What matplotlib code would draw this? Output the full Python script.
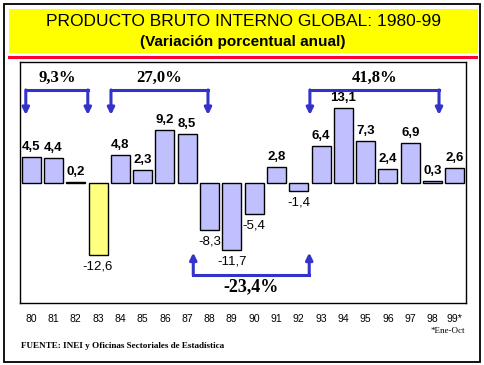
import matplotlib
matplotlib.use("Agg")
from matplotlib import pyplot as plt
from matplotlib.patches import Rectangle
from matplotlib.lines import Line2D

# datos
anios = ["80", "81", "82", "83", "84", "85", "86", "87", "88", "89",
         "90", "91", "92", "93", "94", "95", "96", "97", "98", "99*"]
variacion = [4.5, 4.4, 0.2, -12.6, 4.8, 2.3, 9.2, 8.5, -8.3, -11.7,
             -5.4, 2.8, -1.4, 6.4, 13.1, 7.3, 2.4, 6.9, 0.3, 2.6]
# periodos acumulados: (desde, hasta, texto)
periodos_arriba = [(-0.24, 2.54, "9,3%"), (3.58, 7.93, "27,0%"), (12.5, 18.29, "41,8%")]
periodo_abajo = (7.27, 12.47, "-23,4%")

W, H = 484, 365
fig = plt.figure(figsize=(W / 100, H / 100), dpi=100)

def fx(px):
    return px / W

def fy(py):
    return 1 - py / H

# marco exterior, recuadro amarillo y linea roja
fig.add_artist(Rectangle((fx(4), fy(362)), fx(476), 358 / H, transform=fig.transFigure,
                         fill=False, ec="black", lw=1.3))
fig.add_artist(Rectangle((fx(9), fy(53)), fx(469), 44 / H, transform=fig.transFigure,
                         fc="#FFFF00", ec="none"))
fig.add_artist(Line2D([fx(9), fx(476)], [fy(57), fy(57)], transform=fig.transFigure,
                      color="#FF0033", lw=2.2))

fig.text(fx(243), fy(22), "PRODUCTO BRUTO INTERNO GLOBAL: 1980-99", ha="center", va="center",
         fontsize=12.5, family="Liberation Sans")
fig.text(fx(243), fy(42), "(Variación porcentual anual)", ha="center", va="center",
         fontsize=11, fontweight="bold", family="Liberation Sans")

ax = fig.add_axes([fx(20), fy(303), 446 / W, 241 / H])
x = list(range(len(anios)))
colores = ["#FFFF80" if a == "83" else "#C0C0FF" for a in anios]
ax.bar(x, variacion, width=0.85, color=colores, edgecolor="black", linewidth=1)
ax.set_xlim(-0.5, 19.5)
ax.set_ylim(-21, 21.15)
ax.set_yticks([])
ax.set_xticks(x)
ax.set_xticklabels(anios, fontsize=7.5, family="Liberation Sans")
ax.tick_params(axis="x", length=0, pad=8)
for s in ax.spines.values():
    s.set_linewidth(1)

for xi, v in zip(x, variacion):
    txt = ("%.1f" % v).replace(".", ",")
    if v >= 0:
        ax.annotate(txt, (xi, v), xytext=(0, 3), textcoords="offset points", ha="center",
                    va="bottom", fontsize=9.5, fontweight="bold", family="Liberation Sans")
    else:
        ax.annotate(txt, (xi, v), xytext=(0, -4), textcoords="offset points", ha="center",
                    va="top", fontsize=9.5, family="Liberation Sans")

azul = "#3333CC"

def corchete(x0, x1, yh, ytip, texto, ytxt, size):
    ax.plot([x0, x1], [yh, yh], color=azul, lw=2.2, clip_on=False, solid_capstyle="projecting")
    for xx in (x0, x1):
        ax.annotate("", xy=(xx, ytip), xytext=(xx, yh),
                    arrowprops=dict(arrowstyle="-|>", lw=2.2, color=azul, mutation_scale=10,
                                    shrinkA=0, shrinkB=0))
    ax.text((x0 + x1) / 2, ytxt, texto, ha="center", va="center", fontsize=size,
            fontweight="bold", family="Liberation Serif")

for x0, x1, t in periodos_arriba:
    corchete(x0, x1, 16.26, 11.9, t, 18.4, 12)
corchete(periodo_abajo[0], periodo_abajo[1], -16.1, -12.2, periodo_abajo[2], -18.2, 13)

fig.text(fx(448), fy(331), "*Ene-Oct", ha="center", va="center", fontsize=6.5,
         family="Liberation Serif")
fig.text(fx(21), fy(346), "FUENTE: INEI y Oficinas Sectoriales de Estadística", ha="left",
         va="center", fontsize=6.6, fontweight="bold", family="Liberation Serif")

fig.savefig("out.png", dpi=100)
